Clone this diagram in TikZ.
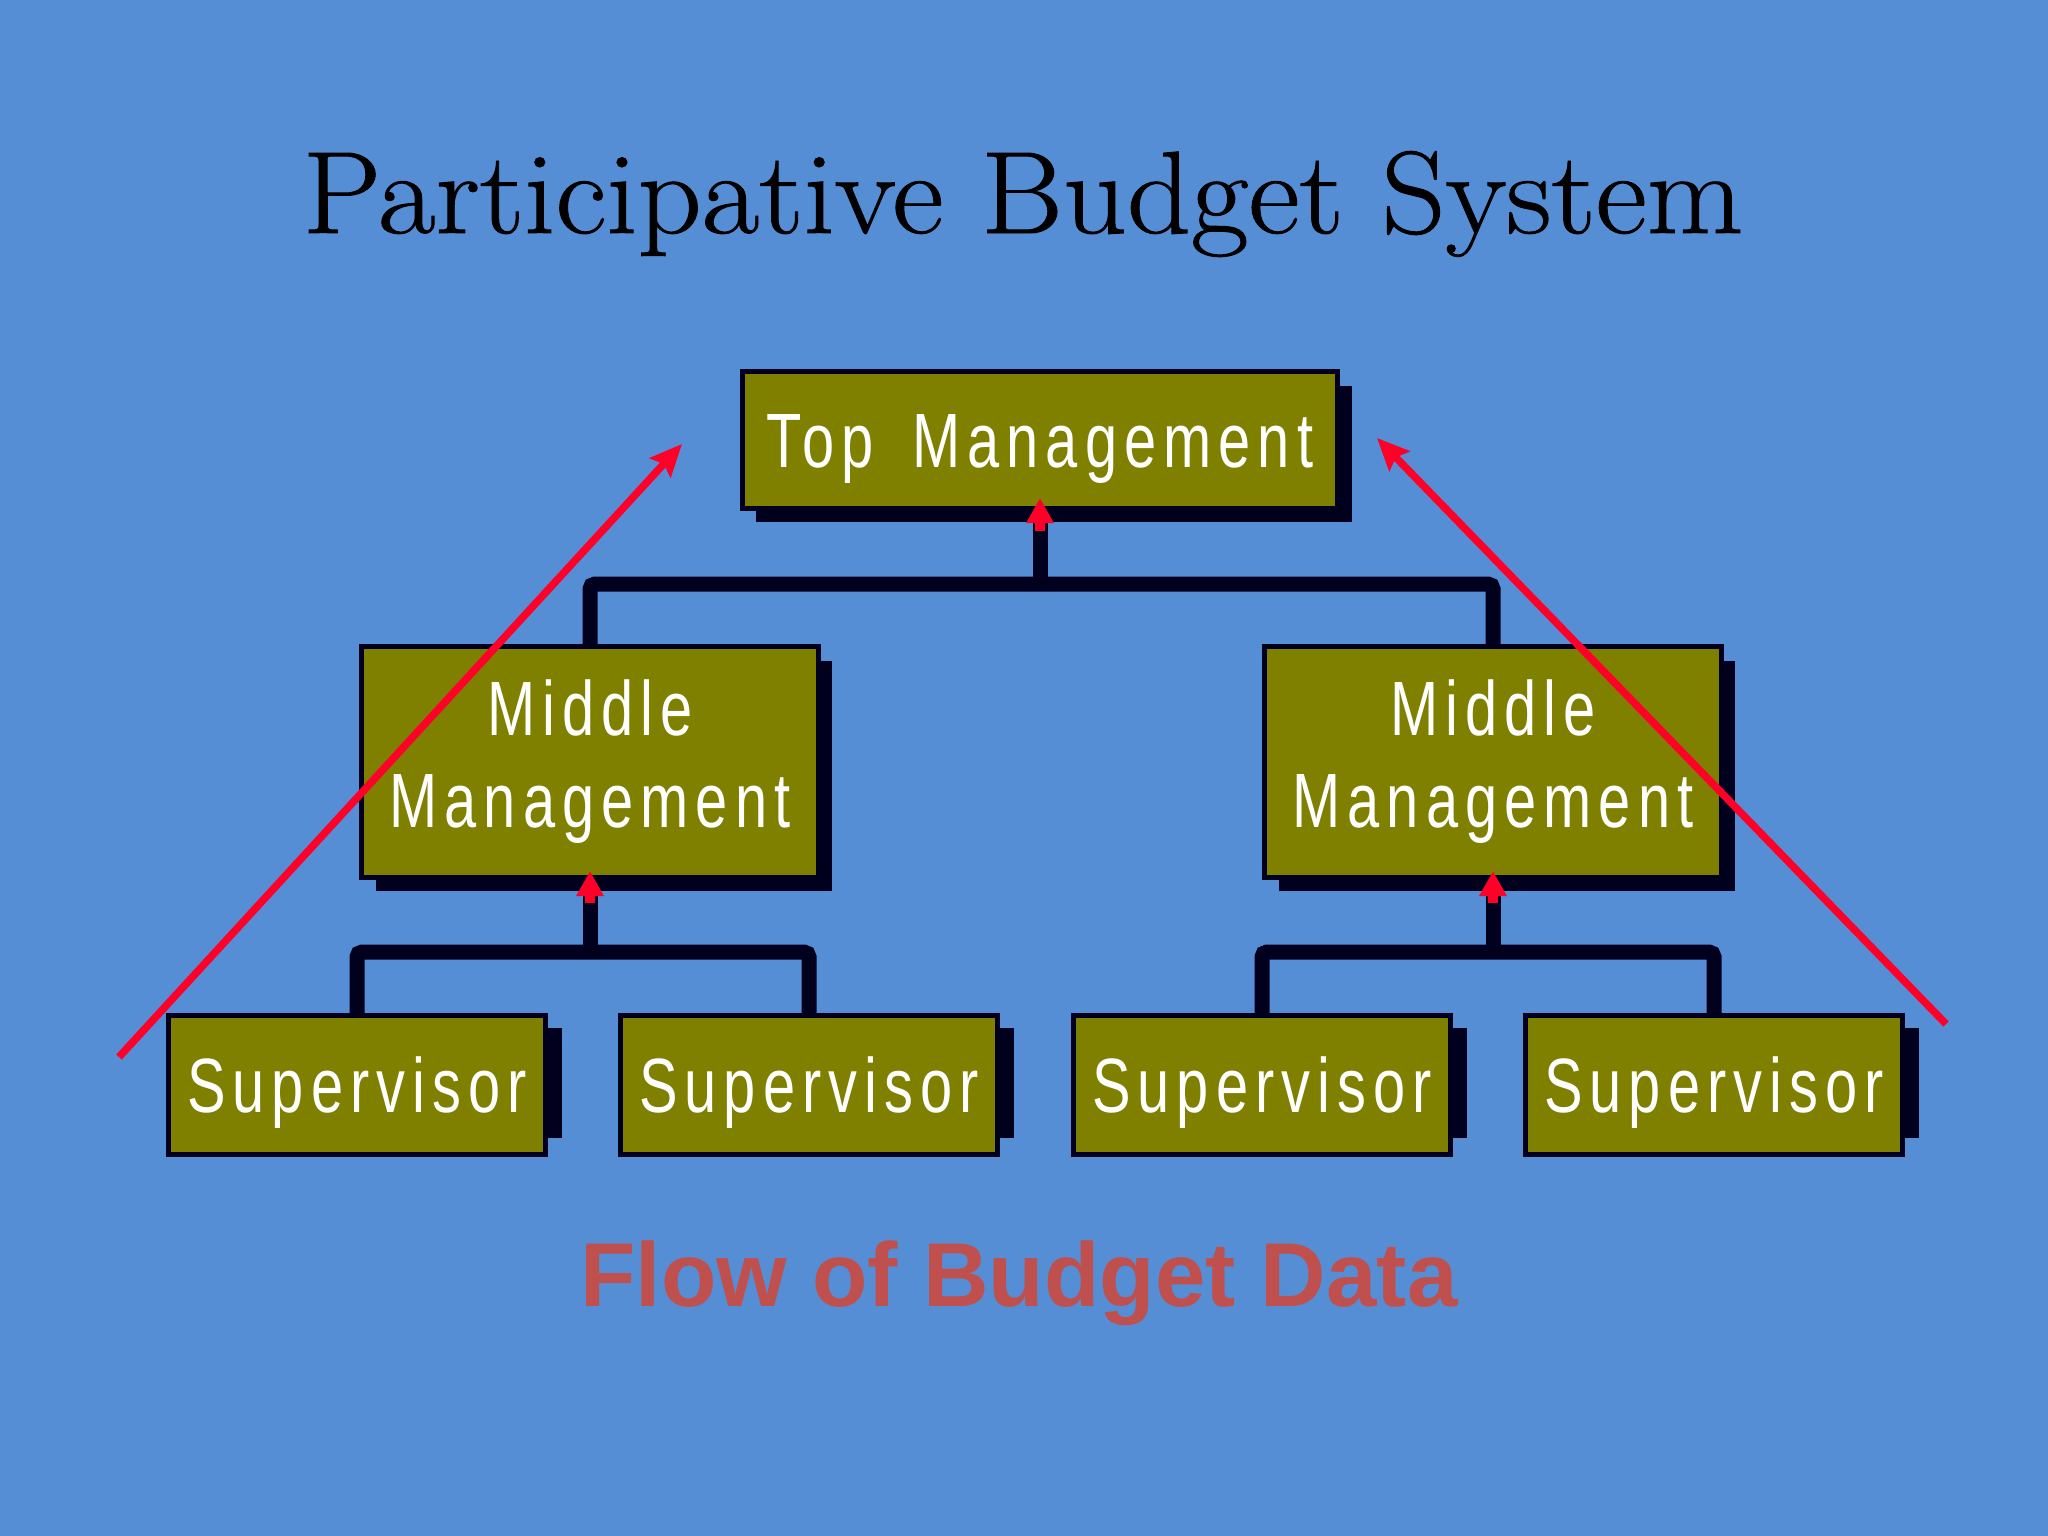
\documentclass[tikz,border=0pt]{standalone}
\usepackage{fontspec}
\usetikzlibrary{arrows.meta,shadows}
\newfontfamily\titlefont[FakeStretch=1.07,FakeBold=0.8]{Latin Modern Roman}
\newfontfamily\boxfont[FakeStretch=0.75,LetterSpace=9.2]{Liberation Sans}
\newfontfamily\flowfont{Liberation Sans}
\definecolor{slideblue}{RGB}{85,142,213}
\definecolor{boxolive}{RGB}{128,128,0}
\definecolor{linenavy}{RGB}{0,0,30}
\definecolor{flowred}{RGB}{255,0,40}
\definecolor{captionred}{RGB}{192,80,77}
\begin{document}
\begin{tikzpicture}[x=0.01cm,y=-0.01cm,
	box/.style={draw=linenavy,line width=0.05cm,fill=boxolive,text=white,inner sep=0pt,font=\boxfont\fontsize{21.9}{26.2}\selectfont},
	oneline/.style={text height=0.55cm,text depth=0pt},
	bigshadow/.style={general shadow={fill=linenavy,shadow xshift=0.14cm,shadow yshift=-0.14cm}},
	link/.style={draw=linenavy,line width=0.15cm,rounded corners=0.05cm},
	uparrow/.style={draw=flowred,line width=0.1cm,-{Triangle[length=0.25cm,width=0.26cm]}},
	flow/.style={draw=flowred,line width=0.075cm,-{Stealth[length=0.32cm,width=0.28cm,inset=0.05cm]}}]
	\fill[slideblue] (0,0) rectangle (2048,1536);
	\node[anchor=base,font=\titlefont\fontsize{33.3}{40}\selectfont] (title) at (1023,233) {Participative Budget System};
	\begin{scope}[every node/.style={box}]
	\node[bigshadow,oneline,minimum width=5.95cm,minimum height=1.36cm] (top) at (1040,440) {Top\hspace{0.15cm} Management};
	\node[bigshadow,align=center,minimum width=4.56cm,minimum height=2.30cm] (midL) at (590,762) {Middle\\Management};
	\node[bigshadow,align=center,minimum width=4.56cm,minimum height=2.30cm] (midR) at (1493,762) {Middle\\Management};
	\node[oneline,minimum width=3.77cm,minimum height=1.39cm] (supA) at (357,1085) {Supervisor};
	\node[oneline,minimum width=3.77cm,minimum height=1.39cm] (supB) at (809,1085) {Supervisor};
	\node[oneline,minimum width=3.77cm,minimum height=1.39cm] (supC) at (1262,1085) {Supervisor};
	\node[oneline,minimum width=3.77cm,minimum height=1.39cm] (supD) at (1714,1085) {Supervisor};
	\end{scope}
	\foreach \s in {supA,supB,supC,supD}
		\fill[linenavy] ([shift={(0,15)}]\s.north east) rectangle ([shift={(14,-19)}]\s.south east);
	\coordinate (busT) at (0,584);
	\coordinate (busL) at (0,952);
	\draw[link] (midL.north) |- (top.south |- busT) -| (midR.north);
	\draw[link] (top.south) -- (top.south |- busT);
	\draw[link] (supA.north) |- (midL.south |- busL) -| (supB.north);
	\draw[link] (midL.south) -- (midL.south |- busL);
	\draw[link] (supC.north) |- (midR.south |- busL) -| (supD.north);
	\draw[link] (midR.south) -- (midR.south |- busL);
	\draw[uparrow] ([yshift=-0.2cm]top.south) -- ([yshift=0.125cm]top.south);
	\draw[uparrow] ([yshift=-0.235cm]midL.south) -- ([yshift=0.085cm]midL.south);
	\draw[uparrow] ([yshift=-0.235cm]midR.south) -- ([yshift=0.085cm]midR.south);
	\coordinate (flowL) at (119,1057);
	\coordinate (flowLtip) at (682,444);
	\coordinate (flowR) at (1946,1024);
	\coordinate (flowRtip) at (1377,438);
	\draw[flow] (flowL) -- (flowLtip);
	\draw[flow] (flowR) -- (flowRtip);
	\node[anchor=base,font=\flowfont\bfseries\fontsize{25.8}{30}\selectfont,text=captionred] (caption) at (1019,1306) {Flow of Budget Data};
\end{tikzpicture}
\end{document}
